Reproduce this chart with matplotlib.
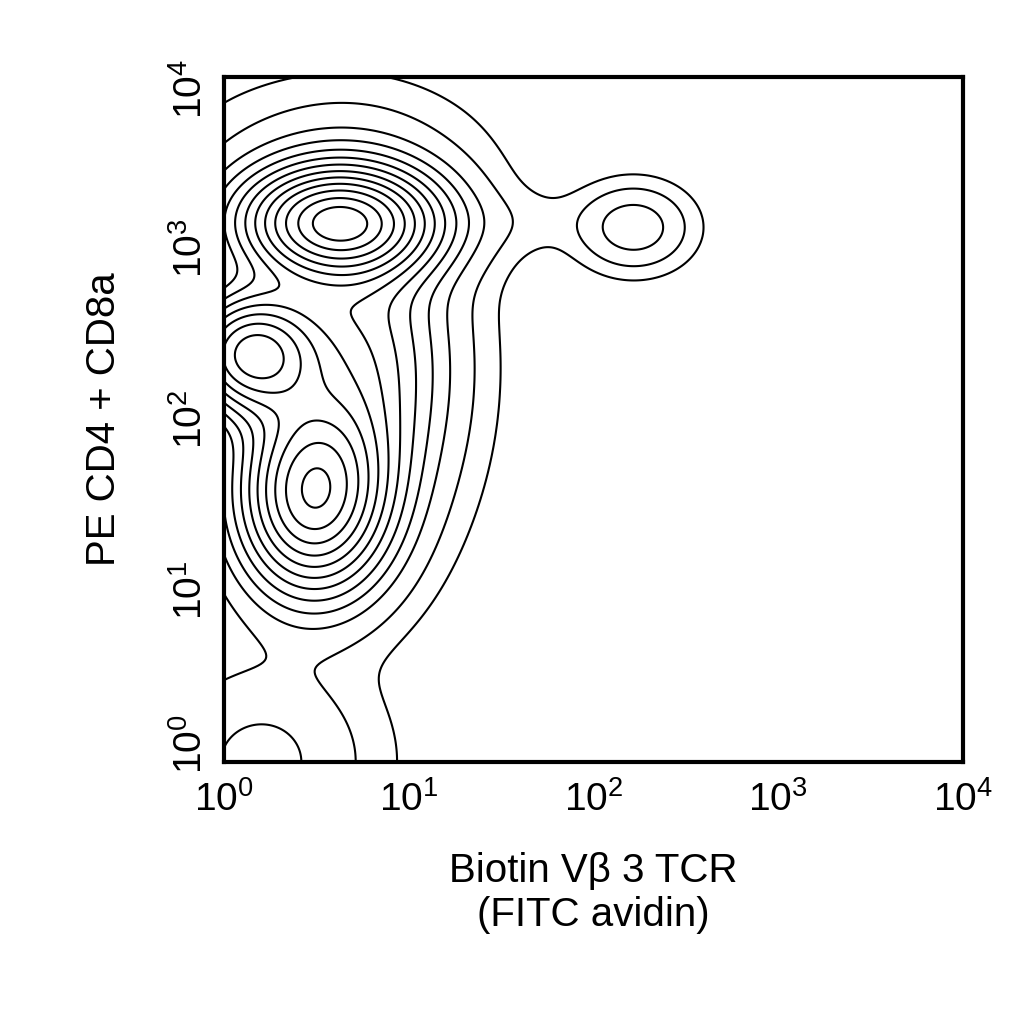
import numpy as np
import matplotlib
matplotlib.use("Agg")
import matplotlib.pyplot as plt
from matplotlib.transforms import ScaledTranslation

plt.rcParams["font.family"] = ["Liberation Sans", "DejaVu Sans"]
plt.rcParams["mathtext.fontset"] = "custom"
plt.rcParams["mathtext.rm"] = "Liberation Sans"
plt.rcParams["mathtext.it"] = "Liberation Sans:italic"

# Populations in log10 units: (center x, center y, sd x, sd y, weight)
pop_x = [0.62, 0.15, 0.48, 2.22, 0.2, 0.7, 0.6, 1.6]
pop_y = [3.15, 2.38, 1.56, 3.12, 0.0, 2.3, 3.55, 3.15]
pop_sx = [0.32, 0.22, 0.24, 0.17, 0.35, 0.30, 0.45, 0.35]
pop_sy = [0.20, 0.22, 0.34, 0.14, 0.35, 0.55, 0.25, 0.12]
pop_w = [1.0, 0.75, 0.8, 0.10, 0.08, 0.30, 0.04, 0.012]
levels_rel = [0.008, 0.025, 0.06, 0.1, 0.15, 0.21, 0.28, 0.36, 0.45, 0.55, 0.66, 0.78, 0.9]

gx = np.linspace(0, 4, 400)
gy = np.linspace(0, 4, 400)
GX, GY = np.meshgrid(gx, gy)
Z = np.zeros_like(GX)
for cx, cy, sx, sy, w in zip(pop_x, pop_y, pop_sx, pop_sy, pop_w):
    Z += w * np.exp(-0.5 * (((GX - cx) / sx) ** 2 + ((GY - cy) / sy) ** 2))
Z /= Z.max()

fig = plt.figure(figsize=(10.24, 10.24), dpi=100)
ax = fig.add_axes([0.219, 0.256, 0.721, 0.669])
ax.contour(10 ** GX, 10 ** GY, Z, levels=levels_rel, colors="black", linewidths=1.5)
ax.set_xscale("log")
ax.set_yscale("log")
ax.set_xlim(1, 1e4)
ax.set_ylim(1, 1e4)
for s in ax.spines.values():
    s.set_linewidth(3)
ticks = [1, 10, 100, 1000, 10000]
labels = [r"$10^{%d}$" % i for i in range(5)]
ax.set_xticks(ticks)
ax.set_xticklabels(labels, fontsize=28)
ax.set_yticks(ticks)
ax.set_yticklabels(labels, fontsize=28, rotation=90, va="center")
ax.minorticks_off()
ax.tick_params(axis="x", length=0, pad=14)
ax.tick_params(axis="y", length=0, pad=10)
ylab = ax.get_yticklabels()
ylab[0].set_transform(ylab[0].get_transform() + ScaledTranslation(0, 0.18, fig.dpi_scale_trans))
ylab[-1].set_transform(ylab[-1].get_transform() + ScaledTranslation(0, -0.12, fig.dpi_scale_trans))
ax.set_xlabel("Biotin Vβ 3 TCR\n(FITC avidin)", fontsize=29, labelpad=24)
ax.set_ylabel("PE CD4 + CD8a", fontsize=29, labelpad=36)
fig.savefig("out.png", dpi=100)
